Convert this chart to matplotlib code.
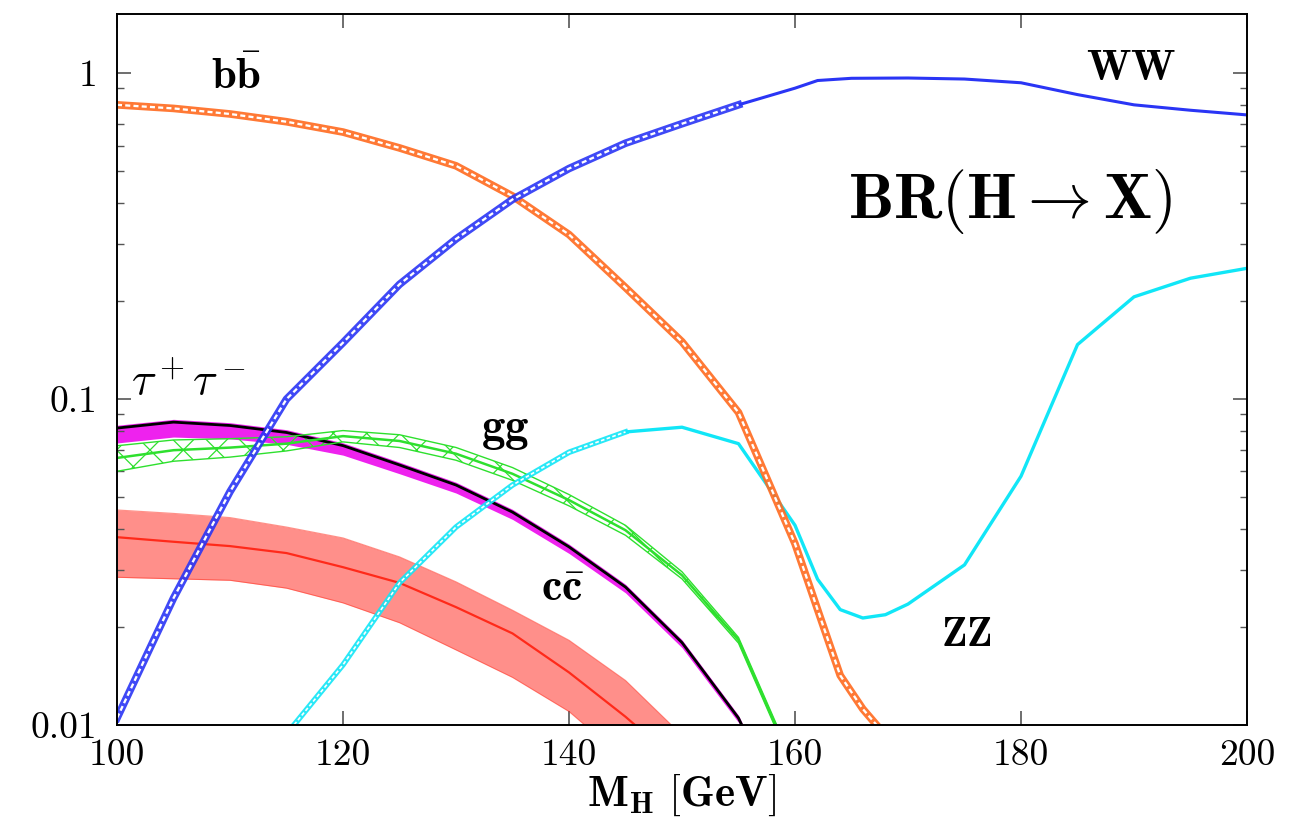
import matplotlib
matplotlib.use('Agg')
import matplotlib.pyplot as plt
import numpy as np
from matplotlib.ticker import FixedLocator, LogLocator, NullFormatter, FuncFormatter

plt.rcParams['font.family'] = 'serif'
plt.rcParams['font.serif'] = ['cmr10']
plt.rcParams['mathtext.fontset'] = 'cm'
plt.rcParams['axes.unicode_minus'] = False
plt.rcParams['hatch.linewidth'] = 0.9

# ---- data (BR vs M_H in GeV) ----
bb_m = [100, 105, 110, 115, 120, 125, 130, 135, 140, 145, 150, 155, 160, 162, 164, 166, 168, 170]
bb = [0.80, 0.78, 0.75, 0.71, 0.66, 0.59, 0.52, 0.42, 0.32, 0.22, 0.15, 0.091, 0.036, 0.0226,
      0.0142, 0.0112, 0.0093, 0.0075]

ww_m = [100, 105, 110, 115, 120, 125, 130, 135, 140, 145, 150, 155, 160, 162, 165, 170, 175,
        180, 185, 190, 195, 200]
ww = [0.0105, 0.0245, 0.052, 0.100, 0.149, 0.225, 0.31, 0.41, 0.51, 0.61, 0.70, 0.80, 0.90,
      0.95, 0.965, 0.967, 0.96, 0.935, 0.86, 0.80, 0.77, 0.745]

zz_m = [114, 120, 125, 130, 135, 140, 145, 150, 155, 160, 162, 164, 166, 168, 170, 175, 180,
        185, 190, 195, 200]
zz = [0.0085, 0.0153, 0.0273, 0.0405, 0.0545, 0.0687, 0.0793, 0.082, 0.073, 0.041, 0.028,
      0.0226, 0.0213, 0.0218, 0.0235, 0.031, 0.058, 0.147, 0.206, 0.235, 0.252]

tau_m = [100, 105, 110, 115, 120, 125, 130, 135, 140, 145, 150, 155, 157]
tau = [0.0815, 0.085, 0.083, 0.079, 0.072, 0.0628, 0.0545, 0.045, 0.0352, 0.0265, 0.0179,
       0.0105, 0.0075]
tau_lo = [0.90, 0.90, 0.91, 0.92, 0.935, 0.94, 0.945, 0.95, 0.955, 0.96, 0.965, 0.97, 0.97]
tau_hi = [1.02, 1.02, 1.02, 1.02, 1.02, 1.02, 1.02, 1.02, 1.02, 1.02, 1.02, 1.02, 1.02]

gg_m = [100, 105, 110, 115, 120, 125, 130, 135, 140, 145, 150, 155, 160]
gg = [0.066, 0.0697, 0.071, 0.073, 0.077, 0.0744, 0.068, 0.059, 0.049, 0.0396, 0.0288,
      0.0182, 0.0073]
gg_err = [0.09, 0.075, 0.065, 0.05, 0.04, 0.045, 0.045, 0.045, 0.04, 0.035, 0.025, 0.02, 0.02]

cc_m = [100, 105, 110, 115, 120, 125, 130, 135, 140, 145, 150]
cc = [0.0377, 0.0365, 0.0354, 0.0337, 0.0305, 0.0273, 0.023, 0.0191, 0.0145, 0.0106, 0.0075]
cc_hi = [0.0457, 0.0446, 0.0433, 0.0405, 0.0375, 0.0328, 0.0275, 0.0225, 0.0182, 0.0137, 0.0093]
cc_lo = [0.0284, 0.0281, 0.0278, 0.0263, 0.0237, 0.0206, 0.017, 0.014, 0.011, 0.0078, 0.0055]

c_bb = '#ff6a1f'
c_ww = '#2a35f5'
c_zz = '#11e6f7'
c_gg = '#2ee02e'
c_tau = '#ee22ee'
c_cc = '#ff2a1a'


def ladderLine(ax, m, val, color, lw):
    # thin error band drawn as a thick line with a white dashed core
    ax.plot(m, val, color=color, lw=lw, solid_joinstyle='round', alpha=0.9)
    ax.plot(m, val, color='white', lw=lw * 0.3, ls=(0, (2.2, 1.4)))


fig = plt.figure(figsize=(13.12, 8.36), dpi=100)
ax = fig.add_axes([117 / 1312, 1 - 725 / 836, 1130 / 1312, 711 / 836])
ax.set_yscale('log')

# c cbar
ax.fill_between(cc_m, cc_lo, cc_hi, color='#ff8f8a', lw=0)
ax.plot(cc_m, cc_hi, color=c_cc, lw=0.8, alpha=0.5)
ax.plot(cc_m, cc_lo, color=c_cc, lw=0.8, alpha=0.5)
ax.plot(cc_m, cc, color=c_cc, lw=1.6)

# tau tau
tau_a = np.asarray(tau)
ax.fill_between(tau_m, tau_a * np.asarray(tau_lo), tau_a * np.asarray(tau_hi), color=c_tau, lw=0)
ax.plot(tau_m, tau, color='black', lw=2.0)

# g g
gg_a = np.asarray(gg)
gg_e = np.asarray(gg_err)
ax.fill_between(gg_m, gg_a * (1 - gg_e), gg_a * (1 + gg_e), facecolor='none',
                edgecolor=c_gg, hatch='x', lw=0)
ax.plot(gg_m, gg_a * (1 - gg_e), color=c_gg, lw=1.0)
ax.plot(gg_m, gg_a * (1 + gg_e), color=c_gg, lw=1.0)
ax.plot(gg_m, gg, color=c_gg, lw=1.8)

# Z Z : band where it is resolved, plain line above threshold
zz_m_a = np.asarray(zz_m)
zz_a = np.asarray(zz)
low = zz_m_a <= 145
ax.plot(zz_m_a[zz_m_a >= 145], zz_a[zz_m_a >= 145], color=c_zz, lw=2.4)
ladderLine(ax, zz_m_a[low], zz_a[low], c_zz, 4.0)

# b bbar and W W
ladderLine(ax, bb_m, bb, c_bb, 5.5)
ww_m_a = np.asarray(ww_m)
ww_a = np.asarray(ww)
ax.plot(ww_m_a[ww_m_a >= 155], ww_a[ww_m_a >= 155], color=c_ww, lw=2.2)
ladderLine(ax, ww_m_a[ww_m_a <= 155], ww_a[ww_m_a <= 155], c_ww, 5.5)

ax.set_xlim(100, 200)
ax.set_ylim(0.01, 1.52)

ax.xaxis.set_major_locator(FixedLocator([100, 120, 140, 160, 180, 200]))
ax.yaxis.set_major_locator(FixedLocator([0.01, 0.1, 1]))
ax.yaxis.set_major_formatter(FuncFormatter(lambda v, p: {0.01: '0.01', 0.1: '0.1', 1: '1'}.get(round(v, 3), '')))
ax.yaxis.set_minor_locator(LogLocator(base=10, subs=np.arange(2, 10)))
ax.yaxis.set_minor_formatter(NullFormatter())
ax.tick_params(which='both', direction='in', top=True, right=True, color='#555555')
ax.tick_params(which='major', length=10, width=1.2, labelsize=27)
ax.tick_params(which='minor', length=5, width=1.0)
ax.tick_params(axis='y', pad=14)
ax.tick_params(axis='x', pad=10)
for s in ax.spines.values():
    s.set_linewidth(1.4)

ax.set_xlabel(r'$\mathbf{M_H\ [GeV]}$', fontsize=31, labelpad=0)

ax.text(110.5, 0.97, r'$\mathbf{b\bar{b}}$', fontsize=32, ha='center', va='center')
ax.text(189.7, 1.03, r'$\mathbf{WW}$', fontsize=31, ha='center', va='center')
ax.text(179, 0.405, r'$\mathbf{BR(H\rightarrow X)}$', fontsize=46, ha='center', va='center')
ax.text(106.3, 0.112, r'$\tau^+\tau^-$', fontsize=33, ha='center', va='center')
ax.text(134.4, 0.080, r'$\mathbf{gg}$', fontsize=34, ha='center', va='center')
ax.text(139.4, 0.0262, r'$\mathbf{c\bar{c}}$', fontsize=33, ha='center', va='center')
ax.text(175.2, 0.0188, r'$\mathbf{ZZ}$', fontsize=30, ha='center', va='center')

fig.savefig('out.png', dpi=100)
